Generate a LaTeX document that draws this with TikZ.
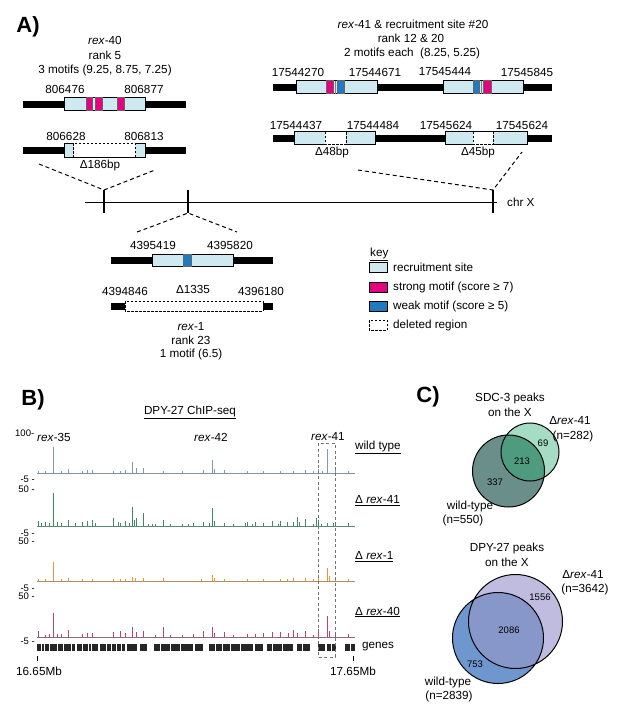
\documentclass[tikz,border=0pt]{standalone}
\usepackage{fontspec}
\setmainfont{Liberation Sans}
\usetikzlibrary{positioning}
\definecolor{sitecol}{HTML}{CFE9F0}
\definecolor{strongcol}{HTML}{E6007E}
\definecolor{weakcol}{HTML}{1F7AC2}
\definecolor{wtcol}{HTML}{7C9BB4}
\definecolor{dfoocol}{HTML}{3E8A66}
\definecolor{donecol}{HTML}{DE9A3A}
\definecolor{dfortycol}{HTML}{AE4A68}
\definecolor{vennwt}{HTML}{6A8E8A}
\definecolor{vennko}{HTML}{A6DCC3}
\definecolor{vennboth}{HTML}{4E9B80}
\definecolor{dpywt}{HTML}{6F97CF}
\definecolor{dpyko}{HTML}{BFBCE0}
\definecolor{dpyboth}{HTML}{8797CA}
\newcommand{\rexname}[1]{\textit{rex}-#1}

\begin{document}
\begin{tikzpicture}[x=1pt,y=-1pt,
  txt/.style={font=\fontsize{11.7}{13}\selectfont,inner sep=0pt},
  small/.style={font=\fontsize{9.5}{11}\selectfont,inner sep=0pt},
  axis/.style={font=\fontsize{9.5}{10}\selectfont,inner sep=0pt},
  panel/.style={font=\fontsize{22}{24}\selectfont\bfseries,inner sep=0pt},
  dna/.style={fill=black},
  site/.style={fill=sitecol,draw=black,line width=0.8pt},
  strong/.style={fill=strongcol,draw=black!60,line width=0.3pt},
  weak/.style={fill=weakcol,draw=black!60,line width=0.3pt},
  deleted/.style={fill=white,draw=black,line width=0.8pt,dash pattern=on 2.5pt off 1.5pt},
  zoomline/.style={line width=1pt,dash pattern=on 4pt off 3pt},
  peak/.style={line width=0.7pt}]
\useasboundingbox (0,0) rectangle (617,713);

% ---------- A) ----------
\node[panel] (pA) at (28,27) {A)};
% rex-40
\node[txt] (r40a) at (105,40) {\rexname{40}};
\node[txt] (r40b) at (105,55) {rank 5};
\node[txt] (r40c) at (105,70) {3 motifs (9.25, 8.75, 7.25)};
\node[txt] (r40l) at (65,89)  {806476};
\node[txt] (r40r) at (144,89) {806877};
\fill[dna] (23,100.5) rectangle (186,107.5);
\draw[site] (64,97) rectangle (145,110);
\draw[strong] (86,97) rectangle (92.5,110);
\draw[strong] (95.5,97) rectangle (102,110);
\draw[strong] (117,97) rectangle (124,110);
\node[txt] (r40dl) at (66,136)  {806628};
\node[txt] (r40dr) at (144,136) {806813};
\fill[dna] (23,146.5) rectangle (186,153.5);
\draw[site] (64,143) rectangle (145,157);
\draw[deleted] (73,143) rectangle (135,157);
\node[txt] (r40del) at (100,165) {Δ186bp};

% rex-41 and site 20
\node[txt] (r41a) at (413,24) {\rexname{41} \& recruitment site \#20};
\node[txt] (r41b) at (411,38.5) {rank 12 \& 20};
\node[txt] (r41c) at (412,53) {2 motifs each\ \ (8.25, 5.25)};
\node[txt] (r41l) at (298,72) {17544270};
\node[txt] (r41r) at (375,72) {17544671};
\node[txt] (s20l) at (445,72) {17545444};
\node[txt] (s20r) at (527,72) {17545845};
\fill[dna] (273,83.5) rectangle (552,90.5);
\draw[site] (296,80.5) rectangle (377,93.5);
\draw[strong] (326,80.5) rectangle (333,93.5);
\draw[black!50,line width=0.6pt] (335.5,80.5) -- (335.5,93.5);
\draw[weak] (337,80.5) rectangle (344,93.5);
\draw[site] (443,80.5) rectangle (523,93.5);
\draw[weak] (473,80.5) rectangle (479.5,93.5);
\draw[black!50,line width=0.6pt] (481.5,80.5) -- (481.5,93.5);
\draw[strong] (483.5,80.5) rectangle (491,93.5);
\node[txt] (r41dl) at (296,125) {17544437};
\node[txt] (r41dr) at (373,125) {17544484};
\node[txt] (s20dl) at (446,125) {17545624};
\node[txt] (s20dr) at (522,125) {17545624};
\fill[dna] (273,134.5) rectangle (552,141.5);
\draw[site] (294,131.5) rectangle (375,144.5);
\draw[deleted] (325,131.5) rectangle (346,144.5);
\draw[site] (445,131.5) rectangle (527,144.5);
\draw[deleted] (473,131.5) rectangle (493,144.5);
\node[txt] (r41del) at (332,152) {Δ48bp};
\node[txt] (s20del) at (478,152) {Δ45bp};

% chromosome
\draw[line width=0.9pt] (85,202) -- (497,202);
\foreach \tx in {104,188,493}
  \draw[line width=2.5pt] (\tx,190) -- (\tx,213);
\node[txt,anchor=west] (chrx) at (507,202) {chr X};
\coordinate (t40) at (104,190);
\coordinate (t1) at (188,213);
\coordinate (t41) at (493,190);
\coordinate (z40l) at (39,164);
\coordinate (z40r) at (155,170);
\coordinate (z1l) at (137,232);
\coordinate (z1r) at (237,232);
\coordinate (z41l) at (358,170);
\coordinate (z41r) at (522,152);
\draw[zoomline] (z40l) -- (t40) -- (z40r);
\draw[zoomline] (z1l) -- (t1) -- (z1r);
\draw[zoomline] (z41l) -- (t41) -- (z41r);

% rex-1
\node[txt] (r1l) at (153,245) {4395419};
\node[txt] (r1r) at (230,245) {4395820};
\fill[dna] (111,256.5) rectangle (273,263.5);
\draw[site] (152,254.5) rectangle (233,266);
\draw[weak] (183,254.5) rectangle (191,266);
\node[txt] (r1dl) at (125,291) {4394846};
\node[txt] (r1del) at (193,289) {Δ1335};
\node[txt] (r1dr) at (261,291) {4396180};
\fill[dna] (111,302.5) rectangle (125,309.5);
\fill[dna] (263,302.5) rectangle (273,309.5);
\draw[deleted] (125,301) rectangle (263,311);
\node[txt] (r1a) at (191,327) {\rexname{1}};
\node[txt] (r1b) at (191,340.5) {rank 23};
\node[txt] (r1c) at (191,354) {1 motif (6.5)};

% key
\node[txt,anchor=west] (key) at (370,254) {\underline{key}};
\draw[site] (369,262) rectangle (387,272);
\draw[fill=strongcol,draw=black,line width=0.8pt] (369,282) rectangle (387,292);
\draw[fill=weakcol,draw=black,line width=0.8pt] (369,301) rectangle (387,311);
\draw[deleted] (369,320) rectangle (387,330);
\node[txt,anchor=west] (ksite) at (393,267) {recruitment site};
\node[txt,anchor=west] (kstrong) at (393,287) {strong motif (score ≥ 7)};
\node[txt,anchor=west] (kweak) at (393,306) {weak motif (score ≥ 5)};
\node[txt,anchor=west] (kdel) at (393,325) {deleted region};

% ---------- B) ----------
\node[panel] (pB) at (33,400) {B)};
\node[txt] (chip) at (190,412) {\underline{DPY-27 ChIP-seq}};
\node[axis,anchor=west] (ymax) at (15,433) {100-};
\node[txt] (lab35) at (54,437) {\rexname{35}};
\node[txt] (lab42) at (211,437) {\rexname{42}};
\node[txt] (lab41) at (328,437) {\rexname{41}};
\node[axis,anchor=east] (ya) at (35,479) {-5 -};
\node[axis,anchor=east] (yb) at (35,489) {50 -};
\node[axis,anchor=east] (yc) at (35,533) {-5 -};
\node[axis,anchor=east] (yd) at (35,541.5) {50 -};
\node[axis,anchor=east] (ye) at (35,588) {-5 -};
\node[axis,anchor=east] (yf) at (35,596.5) {50 -};
\node[axis,anchor=east] (yg) at (35,641) {-5 -};
% tracks
\draw[wtcol!70!gray,line width=0.8pt] (37,473) -- (355,473);
\foreach \px/\ph in {38/2,45/2,53/26,61/2,68/4,82/2,87/3,92/3,113/2,120/2,125/3,132/11,
  136/5,143/5,163/2,182/2,203/3,212/13,214/4,224/3,247/2,263/2,280/2,293/2,305/3,
  313/2,318/4,322/2,327/24,335/3,348/2}
  \draw[peak,wtcol] (\px,473) -- (\px,{473-\ph});
\draw[dfoocol!50!gray,line width=0.8pt] (37,526) -- (355,526);
\foreach \px/\ph in {38/5,41/3,45/4,49/3,53/33,57/4,61/3,68/6,75/3,82/4,87/5,92/6,95/3,
  113/8,118/4,120/3,125/5,129/3,132/19,134/6,136/8,143/13,148/2,152/2,155/2,163/6,
  170/2,182/2,188/2,193/3,203/4,209/3,212/18,214/5,224/3,233/2,245/3,247/4,252/2,
  255/4,263/3,272/5,278/2,280/5,287/4,293/4,297/9,299/4,305/7,313/2,316/8,318/5,
  321/2,327/3,333/3,335/3,348/3}
  \draw[peak,dfoocol] (\px,526) -- (\px,{526-\ph});
\draw[donecol!50!gray,line width=0.8pt] (37,581) -- (355,581);
\foreach \px/\ph in {38/2,45/2,53/19,61/2,68/3,82/2,92/2,113/2,120/2,125/2,132/4,135/3,
  143/3,163/3,201/2,212/6,214/3,224/2,247/2,263/2,280/2,287/2,293/3,305/3,313/2,
  318/4,327/13,329/5,335/2,348/2}
  \draw[peak,donecol] (\px,581) -- (\px,{581-\ph});
\draw[dfortycol!50!gray,line width=0.8pt] (37,637) -- (355,637);
\foreach \px/\ph in {38/6,45/2,49/3,53/24,57/3,61/3,68/7,82/3,87/4,92/4,113/5,120/6,
  125/4,132/10,136/5,143/6,155/2,163/10,170/2,182/2,193/3,203/6,212/10,214/4,224/5,
  233/2,247/3,255/3,263/4,272/5,280/5,288/4,293/7,297/4,305/6,313/2,318/8,327/21,
  329/6,335/3,348/3}
  \draw[peak,dfortycol] (\px,637) -- (\px,{637-\ph});
% genes
\foreach \ga/\gb in {37/57,58/75,77/82,83/98,100/125,127/137,140/147,154/193,195/203,
  209/253,255/263,267/293,297/310,318/325,327/336,345/355}
  \fill[black!85] (\ga,644) rectangle (\gb,651);
\foreach \gx in {41,44,49,63,71,88,91,106,111,116,121,160,170,180,215,222,230,240,272,282,302,331,350}
  \draw[white,line width=0.4pt] (\gx,644) -- (\gx,651);
\node[txt,anchor=west] (genes) at (362,647) {genes};
\draw[line width=1pt] (37.5,656) -- (37.5,661);
\draw[line width=1pt] (353,656) -- (353,661);
\node[txt] (mbl) at (39,671) {16.65Mb};
\node[txt] (mbr) at (353,671) {17.65Mb};
% rex-41 window
\draw[black!55,line width=0.8pt,dash pattern=on 3pt off 2.5pt] (318,443) rectangle (335,657);
% track names
\node[txt,anchor=west] (nwt) at (355,447) {\underline{wild type}};
\node[txt,anchor=west] (n41) at (355,501) {\underline{Δ \textit{rex}-41}};
\node[txt,anchor=west] (n1) at (355,557) {\underline{Δ \textit{rex}-1}};
\node[txt,anchor=west] (n40) at (355,612) {\underline{Δ \textit{rex}-40}};

% ---------- C) ----------
\node[panel] (pC) at (428,397) {C)};
\node[txt] (sdca) at (510,398) {SDC-3 peaks};
\node[txt] (sdcb) at (510,412) {on the X};
\fill[vennwt] (508.5,471) circle (36);
\fill[vennko] (530,452) circle (29);
\begin{scope}
  \clip (508.5,471) circle (36);
  \fill[vennboth] (530,452) circle (29);
\end{scope}
\draw[line width=1pt] (508.5,471) circle (36) (530,452) circle (29);
\node[small] (s69) at (543,443) {69};
\node[small] (s213) at (522,461) {213};
\node[small] (s337) at (495,482) {337};
\node[txt] (sko) at (570,421) {Δ\textit{rex}-41};
\node[txt] (skon) at (573,436) {(n=282)};
\node[txt] (swt) at (470,506) {wild-type};
\node[txt] (swtn) at (463,520) {(n=550)};

\node[txt] (dpya) at (507,548) {DPY-27 peaks};
\node[txt] (dpyb) at (507,562) {on the X};
\fill[dpyko] (515.5,621.5) circle (47);
\fill[dpywt] (498,638) circle (45.5);
\begin{scope}
  \clip (515.5,621.5) circle (47);
  \fill[dpyboth] (498,638) circle (45.5);
\end{scope}
\draw[line width=1pt] (515.5,621.5) circle (47) (498,638) circle (45.5);
\node[small] (d1556) at (540,597) {1556};
\node[small] (d2086) at (509,630) {2086};
\node[small] (d753) at (475,664) {753};
\node[txt] (dko) at (583,575) {Δ\textit{rex}-41};
\node[txt] (dkon) at (585,589) {(n=3642)};
\node[txt] (dwt) at (448,682) {wild-type};
\node[txt] (dwtn) at (449,696) {(n=2839)};
\end{tikzpicture}
\end{document}
